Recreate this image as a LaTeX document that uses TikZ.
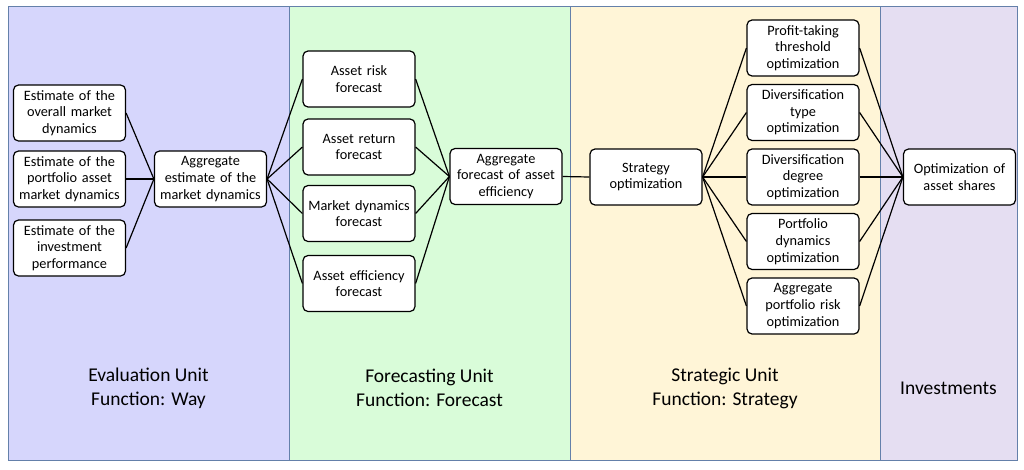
\documentclass[tikz,border=0pt]{standalone}
\usepackage{fontspec}
\setmainfont{Carlito}
\definecolor{pA}{RGB}{214,214,252}
\definecolor{pB}{RGB}{217,252,217}
\definecolor{pC}{RGB}{255,245,215}
\definecolor{pD}{RGB}{229,222,242}
\definecolor{pborder}{RGB}{100,128,170}
\begin{document}
\begin{tikzpicture}[x=1pt,y=-1pt,
  box/.style={draw=black,line width=1.2pt,fill=white,rounded corners=5pt,
    minimum width=112pt,minimum height=56pt,inner sep=0pt,
    text width=112pt,align=center,
    font=\fontsize{14.3pt}{16.7pt}\selectfont},
  panel/.style={draw=pborder,line width=1pt},
  unitlabel/.style={align=center,font=\fontsize{19.5pt}{24pt}\selectfont},
  link/.style={line width=1.2pt}]
\useasboundingbox (0,0) rectangle (1024,469);
\fill[white] (0,0) rectangle (1024,469);
\path[panel,fill=pA] (8,6) rectangle (289,460);
\path[panel,fill=pB] (289,6) rectangle (570,460);
\path[panel,fill=pC] (570,6) rectangle (880,460);
\path[panel,fill=pD] (880,6) rectangle (1017,460);

\node[unitlabel] (l1) at (148.5,388) {Evaluation Unit\\Function: Way};
\node[unitlabel] (l2) at (429.5,388) {Forecasting Unit\\Function: Forecast};
\node[unitlabel] (l3) at (725,388) {Strategic Unit\\Function: Strategy};
\node[unitlabel] (l4) at (948.5,388) {Investments};

\node[box] (a1) at (69.5,113) {Estimate of the\\overall market\\dynamics};
\node[box] (a2) at (69.5,179) {Estimate of the\\portfolio asset\\market dynamics};
\node[box] (a3) at (69.5,248) {Estimate of the\\investment\\performance};
\node[box] (g1) at (210.5,179) {Aggregate\\estimate of the\\market dynamics};

\node[box] (f1) at (359,79) {Asset risk\\forecast};
\node[box] (f2) at (359,147) {Asset return\\forecast};
\node[box] (f3) at (359,213.5) {Market dynamics\\forecast};
\node[box] (f4) at (359,283.5) {Asset efficiency\\forecast};
\node[box] (g2) at (506,176.5) {Aggregate\\forecast of asset\\efficiency};

\node[box] (s) at (646,177) {Strategy\\optimization};
\node[box] (o1) at (803,48) {Profit-taking\\threshold\\optimization};
\node[box] (o2) at (803,112.5) {Diversification\\type\\optimization};
\node[box] (o3) at (803,177) {Diversification\\degree\\optimization};
\node[box] (o4) at (803,241.5) {Portfolio\\dynamics\\optimization};
\node[box] (o5) at (803,306) {Aggregate\\portfolio risk\\optimization};
\node[box] (opt) at (959.5,177) {Optimization of\\asset shares};

\foreach \n in {a1,a2,a3} \draw[link] (\n.east) -- (g1.west);
\foreach \n in {f1,f2,f3,f4} {
  \draw[link] (g1.east) -- (\n.west);
  \draw[link] (\n.east) -- (g2.west);
}
\draw[link] (g2.east) -- (s.west);
\foreach \n in {o1,o2,o3,o4,o5} {
  \draw[link] (s.east) -- (\n.west);
  \draw[link] (\n.east) -- (opt.west);
}
\end{tikzpicture}
\end{document}
